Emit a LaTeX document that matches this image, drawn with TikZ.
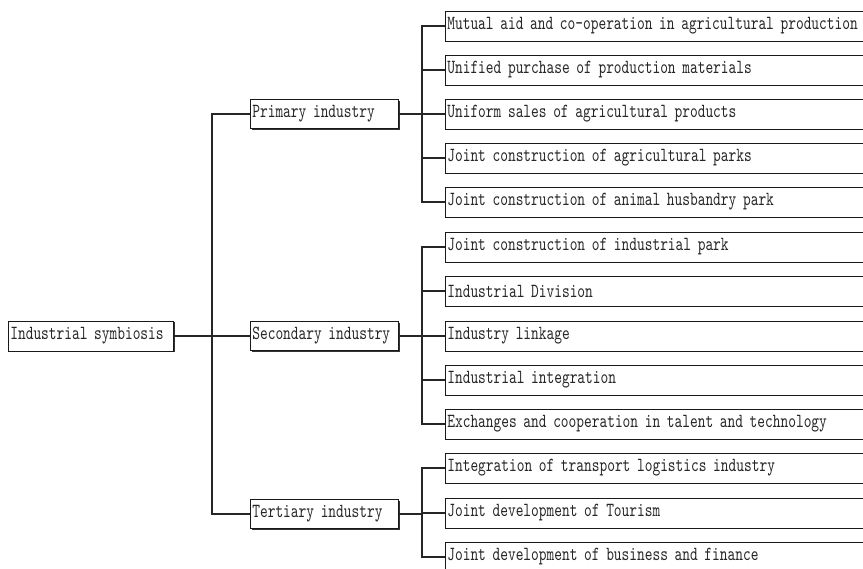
\documentclass[tikz,border=0pt]{standalone}
\usepackage{fontspec}
\setmainfont{lmmono10-regular.otf}[FakeStretch=0.735]
\usetikzlibrary{shadows}
\tikzset{
  box/.style={draw=black!90, line width=0.7pt, fill=white, anchor=west,
    inner xsep=2pt, inner ysep=0pt, align=left, text=black!85,
    font=\fontsize{20}{22}\selectfont,
    drop shadow={shadow xshift=1.3pt, shadow yshift=-1.3pt, fill=black!80, opacity=1}},
  rootbox/.style={box, minimum height=30pt, text width=161pt},
  midbox/.style={box, minimum height=29pt, text width=144pt},
  leafbox/.style={box, minimum height=30pt, text width=440pt},
  conn/.style={draw=black!85, line width=1.2pt}
}
\begin{document}
\begin{tikzpicture}[x=1pt,y=-1pt]
\path[use as bounding box, clip] (0,0) rectangle (863,569);
\fill[white] (0,0) rectangle (863,569);
% root
\node[rootbox] (root) at (8,336) {Industrial symbiosis};
% level 2
\node[midbox] (prim) at (250,114) {Primary industry};
\node[midbox] (sec) at (250,336) {Secondary industry};
\node[midbox] (tert) at (250,514) {Tertiary industry};
% leaves primary
\node[leafbox] (p1) at (445,26) {Mutual aid and co-operation in agricultural production};
\node[leafbox] (p2) at (445,70) {Unified purchase of production materials};
\node[leafbox] (p3) at (445,114) {Uniform sales of agricultural products};
\node[leafbox] (p4) at (445,158) {Joint construction of agricultural parks};
\node[leafbox] (p5) at (445,202) {Joint construction of animal husbandry park};
% leaves secondary
\node[leafbox] (s1) at (445,247) {Joint construction of industrial park};
\node[leafbox] (s2) at (445,291) {Industrial Division};
\node[leafbox] (s3) at (445,336) {Industry linkage};
\node[leafbox] (s4) at (445,380) {Industrial integration};
\node[leafbox] (s5) at (445,424) {Exchanges and cooperation in talent and technology};
% leaves tertiary
\node[leafbox] (t1) at (445,468) {Integration of transport logistics industry};
\node[leafbox] (t2) at (445,513) {Joint development of Tourism};
\node[leafbox] (t3) at (445,557) {Joint development of business and finance};
% trunk
\coordinate (tr) at (212,336);
\draw[conn] (root.east) -- (tr);
\draw[conn] (prim.west) -- (prim.west -| tr) -- (tert.west -| tr) -- (tert.west);
\draw[conn] (tr) -- (sec.west);
% buses
\coordinate (b1) at (422,114);
\coordinate (b2) at (422,336);
\coordinate (b3) at (422,514);
\draw[conn] (prim.east) -- (b1);
\draw[conn] (p1.west) -- (p1.west -| b1) -- (p5.west -| b1) -- (p5.west);
\foreach \n in {p2,p3,p4} \draw[conn] (\n.west -| b1) -- (\n.west);
\draw[conn] (sec.east) -- (b2);
\draw[conn] (s1.west) -- (s1.west -| b2) -- (s5.west -| b2) -- (s5.west);
\foreach \n in {s2,s3,s4} \draw[conn] (\n.west -| b2) -- (\n.west);
\draw[conn] (tert.east) -- (b3);
\draw[conn] (t1.west) -- (t1.west -| b3) -- (t3.west -| b3) -- (t3.west);
\draw[conn] (t2.west -| b3) -- (t2.west);
\end{tikzpicture}
\end{document}
